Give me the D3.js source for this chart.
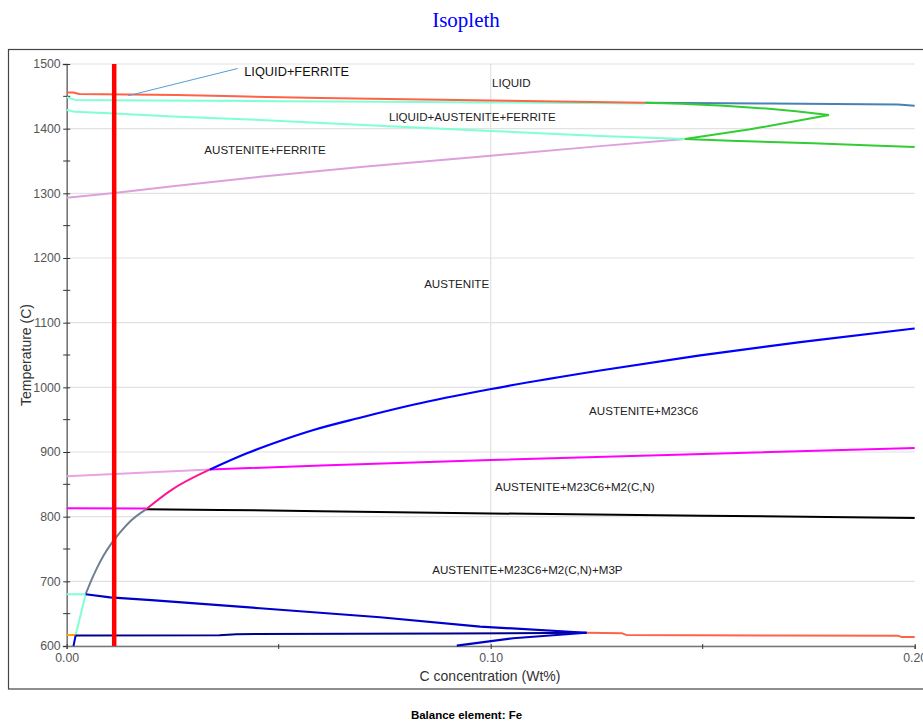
<!DOCTYPE html>
<html>
<head>
<meta charset="utf-8">
<script src="https://cdn.jsdelivr.net/npm/d3@7"></script>
<style>
  html, body { margin: 0; padding: 0; background: #fff; }
  svg { display: block; }
</style>
</head>
<body>
<script>
// ---------------- DATA ----------------
const xTickValues = [0.00, 0.10, 0.20];
const xMinorTicks = [0.05, 0.15];
const yTickValues = [600, 700, 800, 900, 1000, 1100, 1200, 1300, 1400, 1500];
const yMinorTicks = [650, 750, 850, 950, 1050, 1150, 1250, 1350, 1450];

// boundary lines: [C wt%, T]
const liquidusRed = [[0,1456],[0.0015,1456],[0.003,1453.5],[0.026,1452],[0.04,1450],[0.06,1447.5],[0.08,1445.5],[0.10,1443.5],[0.12,1441.5],[0.1365,1440]];
const liquidusBlue = [[0.1365,1440],[0.166,1439],[0.196,1437.5],[0.20,1435.5]];
const ferriteUpper = [[0,1448.5],[0.002,1444.5],[0.02,1443.5],[0.05,1442.5],[0.075,1441.5],[0.10,1440.5],[0.1365,1439]];
const ferriteLower = [[0,1429],[0.002,1426],[0.01,1424],[0.025,1419],[0.0456,1413.4],[0.0786,1403],[0.10,1396.5],[0.1258,1388.7],[0.1458,1384]];
const austeniteFerrite = [[0,1293],[0.0112,1300.5],[0.025,1311],[0.0456,1325.5],[0.07,1341],[0.10,1358],[0.1258,1373],[0.1458,1384]];
const greenUpper = [[0.1365,1440],[0.145,1438.5],[0.155,1435.5],[0.165,1431],[0.172,1427],[0.1798,1421]];
const greenMiddle = [[0.1798,1421],[0.1612,1399],[0.1458,1384]];
const greenLower = [[0.1458,1384],[0.1565,1381.4],[0.176,1377.4],[0.19,1374],[0.20,1371.5]];
const m23Gray = [[0.00448,680.5],[0.0055,697],[0.0071,720],[0.0087,740],[0.0106,759],[0.0125,775],[0.015,793],[0.0187,811.4]];
const m23Pink = [[0.0187,811.4],[0.0244,840],[0.0338,873]];
const m23Blue = [[0.0338,873],[0.0425,898],[0.0503,917],[0.0582,934],[0.0692,953],[0.0817,973],[0.0998,997],[0.1258,1026],[0.149,1049],[0.173,1070],[0.20,1091]];
const m2Violet = [[0,862.5],[0.0338,873]];
const m2Magenta = [[0.0338,873],[0.06,879],[0.10,887.5],[0.15,897],[0.20,906]];
const m3pMagenta = [[0,813],[0.0187,812.5]];
const m3pBlack = [[0.0187,811.5],[0.036,810.5],[0.06,808.5],[0.10,805],[0.15,801.5],[0.20,798]];
const lowAquaH = [[0,680],[0.00448,680]];
const lowAquaD = [[0.00448,680],[0.00212,617]];
const lowOrange = [[0,617],[0.00212,617]];
const lowNavy = [[0.0021,616.3],[0.036,616.8],[0.04,618.3],[0.09,619.3],[0.1226,620.5]];
const lowBlueDesc = [[0.00448,680],[0.0102,675.3],[0.02,671],[0.0456,658.4],[0.0739,644.5],[0.0975,630],[0.1226,620.5]];
const lowBlueRise = [[0.092,600.5],[0.1053,612],[0.1226,620.5]];
const lowBlueShort = [[0.0016,600],[0.0021,616.3]];
const lowRed = [[0.1226,620.5],[0.131,619.6],[0.132,617.2],[0.168,616.3],[0.196,616],[0.197,613.8],[0.20,613.8]];
const leader = [[0.0145,1451],[0.0403,1493]];
const alloyLine = [[0.0112,600],[0.0112,1500]];

const phaseLabels = ["LIQUID","LIQUID+AUSTENITE+FERRITE","AUSTENITE+FERRITE","AUSTENITE","AUSTENITE+M23C6","AUSTENITE+M23C6+M2(C,N)","AUSTENITE+M23C6+M2(C,N)+M3P"];
const phaseLabelC = [0.1003,0.0760,0.03245,0.0843,0.1232,0.101,0.0862];
const phaseLabelT = [1464.4,1411.9,1360.4,1152.9,956.5,839,712];
const calloutLabel = "LIQUID+FERRITE";
const calloutC = 0.04187, calloutT = 1481.9;

const titleText = "Isopleth";
const xTitle = "C concentration (Wt%)";
const yTitle = "Temperature (C)";
const footText = "Balance element: Fe";

// ---------------- CHART ----------------
const W = 923, H = 723;
const svg = d3.select("body").append("svg").attr("width", W).attr("height", H);

const x = d3.scaleLinear().domain([0, 0.20]).range([66.7, 914.7]);
const y = d3.scaleLinear().domain([600, 1500]).range([646, 64]);

// outer frame
svg.append("rect").attr("x", 8.5).attr("y", 49.5).attr("width", 940).attr("height", 639.5)
  .attr("fill", "none").attr("stroke", "#444").attr("stroke-width", 1.2);

// title
svg.append("text").attr("x", 466).attr("y", 26.5).attr("text-anchor", "middle")
  .attr("font-family", "Liberation Serif, Times New Roman, serif").attr("font-size", 21)
  .attr("fill", "#0000ff").text(titleText);

// grid
const grid = svg.append("g");
grid.selectAll("line.h").data(yTickValues).enter().append("line")
  .attr("x1", x(0)).attr("x2", x(0.20)).attr("y1", d => y(d)).attr("y2", d => y(d))
  .attr("stroke", "#e2e2e2").attr("stroke-width", 1.2);
grid.selectAll("line.v").data([0.10]).enter().append("line")
  .attr("x1", d => x(d)).attr("x2", d => x(d)).attr("y1", y(600)).attr("y2", y(1500))
  .attr("stroke", "#e2e2e2").attr("stroke-width", 1.2);

// axes
const font = "Liberation Sans, Arial, sans-serif";
const yAxis = svg.append("g").attr("transform", `translate(${x(0)},0)`)
  .call(d3.axisLeft(y).tickValues(yTickValues).tickFormat(d3.format("d")).tickSize(4).tickPadding(2));
const xAxis = svg.append("g").attr("transform", `translate(0,${y(600)})`)
  .call(d3.axisBottom(x).tickValues(xTickValues).tickFormat(d3.format(".2f")).tickSize(3).tickPadding(4));
[yAxis, xAxis].forEach(a => {
  a.select(".domain").attr("stroke", "#777").attr("stroke-width", 1.6);
  a.selectAll(".tick line").attr("stroke", "#333").attr("stroke-width", 1);
  a.selectAll(".tick text").attr("font-family", font).attr("font-size", 12.3).attr("fill", "#555");
});
yAxis.selectAll(".tick line").attr("x2", 3.5).attr("x1", -3.5);
xAxis.selectAll(".tick line").attr("y1", -2).attr("y2", 3);
// minor ticks
svg.append("g").selectAll("line").data(yMinorTicks).enter().append("line")
  .attr("x1", x(0) - 3.5).attr("x2", x(0) + 3.5).attr("y1", d => y(d)).attr("y2", d => y(d))
  .attr("stroke", "#333").attr("stroke-width", 1);
svg.append("g").selectAll("line").data(xMinorTicks).enter().append("line")
  .attr("x1", d => x(d)).attr("x2", d => x(d)).attr("y1", y(600) - 2).attr("y2", y(600) + 3)
  .attr("stroke", "#333").attr("stroke-width", 1);

// axis titles
svg.append("text").attr("x", 490).attr("y", 680.5).attr("text-anchor", "middle")
  .attr("font-family", font).attr("font-size", 14).attr("fill", "#333").text(xTitle);
svg.append("text").attr("transform", "translate(31,355) rotate(-90)").attr("text-anchor", "middle")
  .attr("font-family", font).attr("font-size", 14).attr("fill", "#333").text(yTitle);

// footer
svg.append("text").attr("x", 466.5).attr("y", 718.5).attr("text-anchor", "middle")
  .attr("font-family", font).attr("font-size", 11.5).attr("font-weight", "bold").attr("fill", "#000").text(footText);

// curves
const lineGen = d3.line().x(d => x(d[0])).y(d => y(d[1]));
const smoothGen = d3.line().x(d => x(d[0])).y(d => y(d[1])).curve(d3.curveMonotoneX);
const curves = svg.append("g").attr("fill", "none").attr("stroke-linejoin", "round");
function draw(data, color, width, smooth) {
  curves.append("path").datum(data).attr("d", smooth ? smoothGen : lineGen)
    .attr("stroke", color).attr("stroke-width", width);
}
draw(austeniteFerrite, "#dda0dd", 2);
draw(ferriteLower, "#7fffd4", 2);
draw(ferriteUpper, "#7fffd4", 2);
draw(liquidusRed, "#ff6347", 2);
draw(liquidusBlue, "#4682b4", 2);
draw(greenUpper, "#32cd32", 2);
draw(greenMiddle, "#32cd32", 2);
draw(greenLower, "#32cd32", 2);
draw(m2Violet, "#e7a3e2", 2);
draw(m2Magenta, "#ff00ff", 2);
draw(m3pMagenta, "#ff00ff", 2);
draw(m3pBlack, "#000000", 2);
draw(m23Gray, "#708090", 2, true);
draw(m23Pink, "#ff1493", 2, true);
draw(m23Blue, "#0000ff", 2.2, true);
draw(lowAquaH, "#7fffd4", 2);
draw(lowAquaD, "#7fffd4", 2);
draw(lowOrange, "#ffa500", 2);
draw(lowRed, "#ff6347", 2);
draw(lowNavy, "#00008b", 2);
draw(lowBlueDesc, "#0000cd", 2.2);
draw(lowBlueRise, "#0000cd", 2.2);
draw(lowBlueShort, "#0000cd", 2);

// alloy line & leader
draw(leader, "#5b9bd5", 1);
draw(alloyLine, "#ff0000", 4.5);

// phase labels
svg.append("g").selectAll("text").data(phaseLabels).enter().append("text")
  .attr("x", (d, i) => x(phaseLabelC[i])).attr("y", (d, i) => y(phaseLabelT[i]))
  .attr("font-family", font).attr("font-size", 11.6).attr("fill", "#222").text(d => d);
svg.append("text").attr("x", x(calloutC)).attr("y", y(calloutT))
  .attr("font-family", font).attr("font-size", 12.8).attr("fill", "#111").text(calloutLabel);
</script>
</body>
</html>
